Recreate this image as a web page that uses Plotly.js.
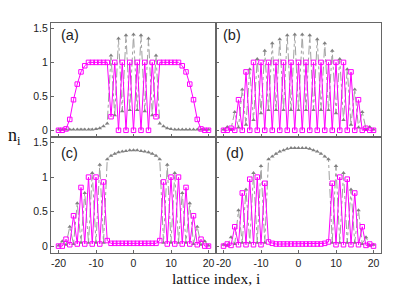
<!DOCTYPE html>
<html>
<head>
<meta charset="utf-8">
<script src="https://cdn.plot.ly/plotly-3.0.1.min.js"></script>
<style>html,body{margin:0;padding:0;background:#fff;}#chart{width:415px;height:291px;}</style>
</head>
<body>
<div id="chart"></div>
<script>
// lattice sites
const sites = [-20,-19,-18,-17,-16,-15,-14,-13,-12,-11,-10,-9,-8,-7,-6,-5,-4,-3,-2,-1,0,1,2,3,4,5,6,7,8,9,10,11,12,13,14,15,16,17,18,19,20];

// panel (a)
const pinkA = [0,0,0.02,0.16,0.45,0.68,0.86,0.95,1,1,1,1,1,1,0.2,1,0,1,0,1,0,1,0,1,0,1,0.2,1,1,1,1,1,1,0.95,0.86,0.68,0.45,0.16,0.02,0,0];
const grayA = [0.01,0.01,0.01,0.01,0.01,0.01,0.01,0.01,0.01,0.01,0.02,0.03,0.06,0.1,1.1,0.22,1.35,0.28,1.4,0.3,1.41,0.3,1.4,0.28,1.35,0.22,1.1,0.1,0.06,0.03,0.02,0.01,0.01,0.01,0.01,0.01,0.01,0.01,0.01,0.01,0.01];

// panel (b)
const pinkB = [0,0,0.03,0,0.45,0,0.86,0,1,0,1,0,1,0,1,0,1,0,1,0,1,0,1,0,1,0,1,0,1,0,1,0,1,0,0.86,0,0.45,0,0.03,0,0];
const grayB = [0.01,0.05,0.02,0.27,0.04,0.6,0.08,0.9,0.15,1.05,0.25,1.17,0.3,1.28,0.3,1.34,0.3,1.4,0.3,1.41,0.3,1.41,0.3,1.4,0.3,1.34,0.3,1.28,0.3,1.17,0.25,1.05,0.15,0.9,0.08,0.6,0.04,0.27,0.02,0.05,0.01];

// panel (c)
const pinkC = [0,0,0.1,0.02,0.44,0.03,0.85,0.03,1,0.03,1,0.03,0.93,0.08,0.04,0.04,0.04,0.04,0.04,0.04,0.04,0.04,0.04,0.04,0.04,0.04,0.04,0.08,0.93,0.03,1,0.03,1,0.03,0.85,0.03,0.44,0.02,0.1,0,0];
const grayC = [0.01,0.07,0.02,0.28,0.03,0.62,0.05,0.77,0.05,1.06,0.05,1.18,0.05,1.26,1.31,1.34,1.36,1.37,1.38,1.39,1.39,1.39,1.38,1.37,1.36,1.34,1.31,1.26,0.05,1.18,0.05,1.06,0.05,0.77,0.05,0.62,0.03,0.28,0.02,0.07,0.01];

// panel (d)
const pinkD = [0,0.03,0.01,0.28,0.02,0.77,0.02,0.97,0.02,1,0.02,0.91,0.06,0.04,0.03,0.03,0.03,0.03,0.03,0.03,0.03,0.03,0.03,0.03,0.03,0.03,0.03,0.04,0.06,0.91,0.02,1,0.02,0.97,0.02,0.77,0.02,0.28,0.01,0.03,0];
const grayD = [0.02,0.01,0.13,0.03,0.52,0.05,0.82,0.05,1.06,0.05,1.16,0.05,1.26,1.3,1.34,1.37,1.39,1.41,1.42,1.42,1.42,1.42,1.42,1.41,1.39,1.37,1.34,1.3,1.26,0.05,1.16,0.05,1.06,0.05,0.82,0.05,0.52,0.03,0.13,0.01,0.02];

const panelLabels = ['(a)','(b)','(c)','(d)'];
const xTickVals = [-20,-10,0,10,20];
const xTickText = ['-20','-10','0','10','20'];
const yTickVals = [0,0.5,1,1.5];
const yTickText = ['0','0.5','1','1.5'];

const PINK = '#ff00ff';
const GRAY = '#808080';

const panels = [
  {pink: pinkA, gray: grayA, xa: 'x',  ya: 'y'},
  {pink: pinkB, gray: grayB, xa: 'x2', ya: 'y2'},
  {pink: pinkC, gray: grayC, xa: 'x3', ya: 'y3'},
  {pink: pinkD, gray: grayD, xa: 'x4', ya: 'y4'}
];

const traces = [];
panels.forEach(p => {
  traces.push({
    x: sites, y: p.gray, xaxis: p.xa, yaxis: p.ya, type: 'scatter', mode: 'lines+markers',
    line: {color: '#a0a0a0', width: 1, dash: 'dashdot'},
    marker: {symbol: 'triangle-up', size: 4, color: GRAY},
    hoverinfo: 'skip'
  });
  traces.push({
    x: sites, y: p.pink, xaxis: p.xa, yaxis: p.ya, type: 'scatter', mode: 'lines+markers',
    line: {color: PINK, width: 1},
    marker: {symbol: 'square-open', size: 4.5, color: PINK, line: {width: 1, color: PINK}},
    hoverinfo: 'skip'
  });
});

const tickFont = {family: 'Liberation Sans, Arial, sans-serif', size: 10.5, color: '#222'};

function xAxis(domain, showLabels) {
  return {
    domain: domain, range: [-22, 22], tickvals: xTickVals, ticktext: xTickText,
    showticklabels: showLabels, ticks: 'inside', ticklen: 3, tickcolor: '#666',
    showline: true, mirror: true, linecolor: '#666', linewidth: 1,
    showgrid: false, zeroline: false, tickfont: tickFont
  };
}
function yAxis(domain, showLabels) {
  return {
    domain: domain, range: [-0.1, 1.58], tickvals: yTickVals, ticktext: yTickText,
    showticklabels: showLabels, ticks: 'inside', ticklen: 3, tickcolor: '#666',
    showline: true, mirror: true, linecolor: '#666', linewidth: 1,
    showgrid: false, zeroline: false, tickfont: tickFont
  };
}

const split = 0.504;
const labelFont = {family: 'Liberation Sans, Arial, sans-serif', size: 14.5, color: '#222'};
const layout = {
  width: 415, height: 291,
  margin: {l: 51, r: 34, t: 23, b: 38, pad: 0},
  paper_bgcolor: '#fff', plot_bgcolor: '#fff',
  showlegend: false,
  xaxis:  Object.assign(xAxis([0, 0.5], false), {anchor: 'y'}),
  yaxis:  Object.assign(yAxis([split, 1], true), {anchor: 'x'}),
  xaxis2: Object.assign(xAxis([0.5, 1], false), {anchor: 'y2'}),
  yaxis2: Object.assign(yAxis([split, 1], false), {anchor: 'x2'}),
  xaxis3: Object.assign(xAxis([0, 0.5], true), {anchor: 'y3'}),
  yaxis3: Object.assign(yAxis([0, split], true), {anchor: 'x3'}),
  xaxis4: Object.assign(xAxis([0.5, 1], true), {anchor: 'y4'}),
  yaxis4: Object.assign(yAxis([0, split], false), {anchor: 'x4'}),
  annotations: [
    {text: panelLabels[0], xref: 'paper', yref: 'paper', x: 0.025, y: 0.948, xanchor: 'left', yanchor: 'middle', showarrow: false, font: labelFont},
    {text: panelLabels[1], xref: 'paper', yref: 'paper', x: 0.516, y: 0.948, xanchor: 'left', yanchor: 'middle', showarrow: false, font: labelFont},
    {text: panelLabels[2], xref: 'paper', yref: 'paper', x: 0.025, y: 0.435, xanchor: 'left', yanchor: 'middle', showarrow: false, font: labelFont},
    {text: panelLabels[3], xref: 'paper', yref: 'paper', x: 0.525, y: 0.435, xanchor: 'left', yanchor: 'middle', showarrow: false, font: labelFont},
    {text: 'n<sub>i</sub>', xref: 'paper', yref: 'paper', x: -0.112, y: 0.505, xanchor: 'center', yanchor: 'middle', showarrow: false, font: {family: 'Liberation Serif, Times New Roman, serif', size: 18, color: '#111'}},
    {text: 'lattice index, i', xref: 'paper', yref: 'paper', x: 0.5, y: -0.11, xanchor: 'center', yanchor: 'middle', showarrow: false, font: {family: 'Liberation Serif, Times New Roman, serif', size: 15.5, color: '#111'}}
  ]
};

Plotly.newPlot('chart', traces, layout, {staticPlot: true, displayModeBar: false});
</script>
</body>
</html>
